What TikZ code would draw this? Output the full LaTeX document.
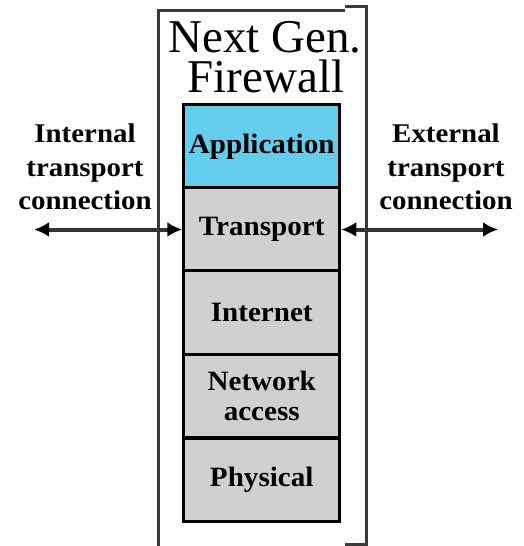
\documentclass[tikz,border=0pt]{standalone}
\usepackage{fontspec}
\setmainfont{Liberation Serif}
\newfontfamily\layerfont[FakeStretch=1.04]{Liberation Serif}
\newfontfamily\sidefont[FakeStretch=1.07]{Liberation Serif}
\usetikzlibrary{arrows.meta}
\definecolor{appblue}{HTML}{66CCEB}
\definecolor{laygray}{HTML}{CED1D0}
\definecolor{framegray}{HTML}{3A3A3A}
\definecolor{arrgray}{HTML}{333333}
\tikzset{
  layer/.style={draw=black, line width=3pt, fill=laygray, minimum width=156pt, minimum height=83.4pt, inner sep=0pt, align=center, font=\layerfont\fontsize{28}{30}\selectfont\bfseries},
  sidelabel/.style={align=center, font=\sidefont\fontsize{27}{33.5}\selectfont\bfseries, inner sep=0pt},
  titletext/.style={font=\fontsize{47}{40}\selectfont, inner sep=0pt, anchor=base},
  conn/.style={draw=arrgray, line width=4pt, {Latex[length=15pt,width=15pt,color=black]}-{Latex[length=15pt,width=15pt,color=black]}},
  frameline/.style={draw=framegray, line width=3pt}
}
\begin{document}
\begin{tikzpicture}[x=1pt,y=-1pt]
\useasboundingbox (0,0) rectangle (524,546);
% frame
\draw[frameline] (158,546) -- (158,10) -- (345,10);
\draw[frameline] (345,6) -- (366,6) -- (366,544) -- (345,544);
% title
\node[titletext, text depth=0pt] (t1) at (265,52) {Next Gen.};
\node[titletext, text height=32pt] (t2) at (266,92) {Firewall};
% layers
\node[layer, fill=appblue] (app) at (261.75,146.5) {Application};
\node[layer] (trans) at (261.75,229.5) {Transport};
\node[layer] (inet) at (261.75,312.5) {Internet};
\node[layer] (net) at (261.75,396) {Network\\access};
\node[layer] (phys) at (261.75,480) {Physical};
% side labels
\node[sidelabel] (intl) at (85,167) {Internal\\transport\\connection};
\node[sidelabel] (extl) at (446,167) {External\\transport\\connection};
% arrows
\coordinate (lend) at (34,229.5);
\coordinate (rend) at (498,229.5);
\draw[conn] (lend) -- (trans.west);
\draw[conn] (trans.east) -- (rend);
\end{tikzpicture}
\end{document}
